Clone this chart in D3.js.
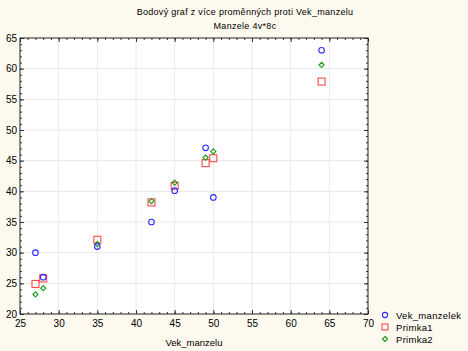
<!DOCTYPE html>
<html><head><meta charset="utf-8">
<script src="https://cdn.jsdelivr.net/npm/d3@7"></script>
<style>body{margin:0;background:#fdf9ee;}svg{display:block;font-family:Arial,"Liberation Sans",sans-serif;}</style>
</head><body><svg id="c" width="468" height="351"></svg>
<script>
const xVals = [27, 28, 35, 42, 45, 49, 50, 64];
const vekManzelek = [30, 26, 31, 35, 40.1, 47.1, 39.0, 63.0];
const primka1 = [24.9, 25.8, 32.1, 38.2, 40.9, 44.6, 45.4, 57.9];
const primka2 = [23.2, 24.2, 31.4, 38.4, 41.4, 45.5, 46.5, 60.6];
const xTicks = [25,30,35,40,45,50,55,60,65,70];
const yTicks = [20,25,30,35,40,45,50,55,60,65];
const titleLines = ["Bodový graf z více proměnných proti Vek_manzelu", "Manzele 4v*8c"];
const xTitle = "Vek_manzelu";
const seriesNames = ["Vek_manzelek", "Primka1", "Primka2"];

const svg = d3.select("#c");
svg.append("rect").attr("width",468).attr("height",351).attr("fill","#fdf9ee");
const L=20,R=368,T=38,B=314;
const x = d3.scaleLinear().domain([25,70]).range([L,R]);
const y = d3.scaleLinear().domain([20,65]).range([B,T]);
svg.append("rect").attr("x",L).attr("y",T).attr("width",R-L).attr("height",B-T).attr("fill","#fff");
// grid
svg.append("g").selectAll("line").data(xTicks.slice(1,-1)).join("line")
  .attr("x1",d=>x(d)).attr("x2",d=>x(d)).attr("y1",T).attr("y2",B).attr("stroke","#e8e8e8");
svg.append("g").selectAll("line").data(yTicks.slice(1,-1)).join("line")
  .attr("y1",d=>y(d)).attr("y2",d=>y(d)).attr("x1",L).attr("x2",R).attr("stroke","#e8e8e8");
// axes with inside ticks
const minorX = d3.range(25,71,1), minorY = d3.range(20,66,1);
function axisG(axis, tr){ const g=svg.append("g").attr("transform",tr).call(axis); g.select(".domain").remove(); g.selectAll("line").attr("stroke","#333"); return g; }
axisG(d3.axisBottom(x).tickValues(minorX).tickSize(-2).tickFormat(""), `translate(0,${B})`);
axisG(d3.axisBottom(x).tickValues(xTicks).tickSize(-4).tickFormat(""), `translate(0,${B})`);
axisG(d3.axisTop(x).tickValues(minorX).tickSize(-2).tickFormat(""), `translate(0,${T})`);
axisG(d3.axisTop(x).tickValues(xTicks).tickSize(-4).tickFormat(""), `translate(0,${T})`);
axisG(d3.axisLeft(y).tickValues(minorY).tickSize(-2).tickFormat(""), `translate(${L},0)`);
axisG(d3.axisLeft(y).tickValues(yTicks).tickSize(-4).tickFormat(""), `translate(${L},0)`);
axisG(d3.axisRight(y).tickValues(minorY).tickSize(-2).tickFormat(""), `translate(${R},0)`);
axisG(d3.axisRight(y).tickValues(yTicks).tickSize(-4).tickFormat(""), `translate(${R},0)`);
svg.append("rect").attr("x",L).attr("y",T).attr("width",R-L).attr("height",B-T).attr("fill","none").attr("stroke","#222").attr("stroke-width",1);
// tick labels
const xl = axisG(d3.axisBottom(x).tickValues(xTicks).tickSize(0).tickPadding(6), `translate(0,${B})`);
xl.selectAll("text").attr("font-size",10).attr("fill","#000").attr("font-family","Arial, Liberation Sans");
const yl = axisG(d3.axisLeft(y).tickValues(yTicks).tickSize(0).tickPadding(3), `translate(${L},0)`);
yl.selectAll("text").attr("font-size",10).attr("fill","#000").attr("font-family","Arial, Liberation Sans").attr("dy","0.32em");
// titles
svg.append("g").selectAll("text").data(titleLines).join("text")
  .attr("x",245).attr("y",(d,i)=>15+i*14).attr("text-anchor","middle").attr("font-size",9).attr("letter-spacing",0.3).text(d=>d);
svg.append("text").attr("x",194).attr("y",346).attr("text-anchor","middle").attr("font-size",9.5).text(xTitle);
// markers
const blue="#2a2aff", red="#ff4a4a", green="#1a9a1a";
const data = xVals.map((v,i)=>({x:v,a:vekManzelek[i],b:primka1[i],c:primka2[i]}));
const diamond = (cx,cy,r)=>`M${cx},${cy-r}L${cx+r},${cy}L${cx},${cy+r}L${cx-r},${cy}Z`;
svg.append("g").selectAll("rect").data(data).join("rect")
  .attr("x",d=>x(d.x)-3.5).attr("y",d=>y(d.b)-3.5).attr("width",7).attr("height",7).attr("fill","none").attr("stroke",red).attr("stroke-width",1.1);
svg.append("g").selectAll("path").data(data).join("path")
  .attr("d",d=>diamond(x(d.x),y(d.c),2.6)).attr("fill","none").attr("stroke",green).attr("stroke-width",1.1);
svg.append("g").selectAll("circle").data(data).join("circle")
  .attr("cx",d=>x(d.x)).attr("cy",d=>y(d.a)).attr("r",2.8).attr("fill","none").attr("stroke",blue).attr("stroke-width",1.1);
// legend
const lg = svg.append("g");
const ly = [315,327,339];
lg.append("circle").attr("cx",385).attr("cy",ly[0]).attr("r",2.6).attr("fill","none").attr("stroke",blue).attr("stroke-width",1.1);
lg.append("rect").attr("x",382).attr("y",ly[1]-3).attr("width",6).attr("height",6).attr("fill","none").attr("stroke",red).attr("stroke-width",1.1);
lg.append("path").attr("d",diamond(385,ly[2],2.5)).attr("fill","none").attr("stroke",green).attr("stroke-width",1.1);
lg.selectAll("text").data(seriesNames).join("text")
  .attr("x",396).attr("y",(d,i)=>ly[i]+3.5).attr("font-size",9.5).attr("letter-spacing",0.3).text(d=>d);
</script></body></html>
